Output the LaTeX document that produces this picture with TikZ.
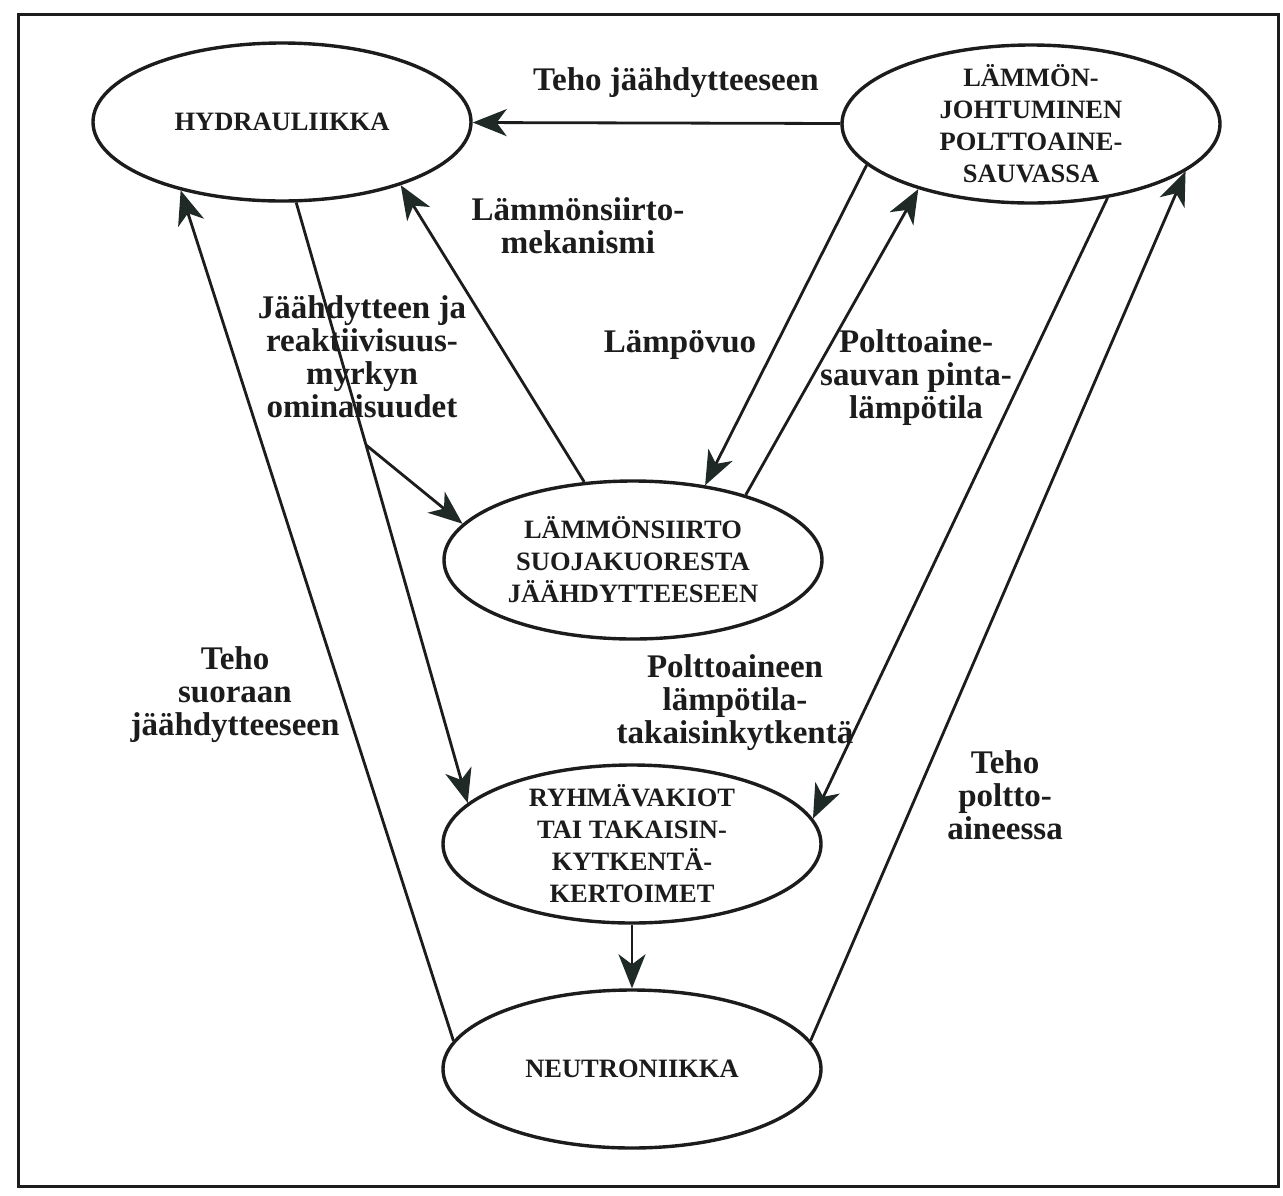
\documentclass[tikz,border=0pt]{standalone}
\usepackage{fontspec}
\setmainfont{Liberation Serif}
\usetikzlibrary{shapes.geometric,arrows.meta}
\definecolor{ink}{HTML}{1C1C1C}
\definecolor{tipc}{HTML}{1F2A26}
\begin{document}
\begin{tikzpicture}[x=1pt,y=-1pt,
  ell/.style={draw=ink, line width=3.4pt, ellipse, minimum width=378pt, minimum height=158pt,
    inner xsep=0pt, inner ysep=-16pt, align=center, font=\bfseries\fontsize{26.5}{32}\selectfont, text=ink},
  conn/.style={draw=ink, line width=2.8pt},
  arr/.style={conn, -{Stealth[length=34pt,width=27pt,inset=10pt,color=tipc]}},
  lbl/.style={align=center, font=\bfseries\fontsize{33}{33}\selectfont, text=ink, inner sep=0pt}
]
\fill[white] (0,0) rectangle (1283,1195);
\useasboundingbox (0,0) rectangle (1283,1195);
\draw[ink, line width=3pt] (18,14) rectangle (1278,1186);

\node[ell] (H) at (282,122) {HYDRAULIIKKA};
\node[ell] (L) at (1031,124) {LÄMMÖN-\\JOHTUMINEN\\POLTTOAINE-\\SAUVASSA};
\node[ell] (S) at (633,560) {LÄMMÖNSIIRTO\\SUOJAKUORESTA\\JÄÄHDYTTEESEEN};
\node[ell] (R) at (632,844) {RYHMÄVAKIOT\\TAI TAKAISIN-\\KYTKENTÄ-\\KERTOIMET};
\node[ell] (N) at (632,1069) {NEUTRONIIKKA};

\node[lbl] (t1) at (676,83) {Teho jäähdytteeseen};
\node[lbl] (t2) at (578,226) {Lämmönsiirto-\\mekanismi};
\node[lbl] (t3) at (362,357) {Jäähdytteen ja\\reaktiivisuus-\\myrkyn\\ominaisuudet};
\node[lbl] (t4) at (680,345) {Lämpövuo};
\node[lbl] (t5) at (916,378) {Polttoaine-\\sauvan pinta-\\lämpötila};
\node[lbl] (t6) at (235,695) {Teho\\suoraan\\jäähdytteeseen};
\node[lbl] (t7) at (735,703) {Polttoaineen\\lämpötila-\\takaisinkytkentä};
\node[lbl] (t8) at (1005,795) {Teho\\poltto-\\aineessa};

\coordinate (fork) at (366,445);
\draw[arr] (L) -- (H);
\draw[arr] (N.171) -- (H.214);
\draw[conn] (H.-80) -- (fork);
\draw[arr] (fork) -- (R.166);
\draw[arr] (fork) -- (S.168);
\draw[arr] (S.122) -- (H.-28);
\draw[arr] (L.194) -- (S.46);
\draw[arr] (S.30) -- (L.210);
\draw[arr] (L.-44) -- (R.8);
\draw[arr] (N.9) -- (L.-17);
\draw[arr] (R) -- (N);
\end{tikzpicture}
\end{document}
